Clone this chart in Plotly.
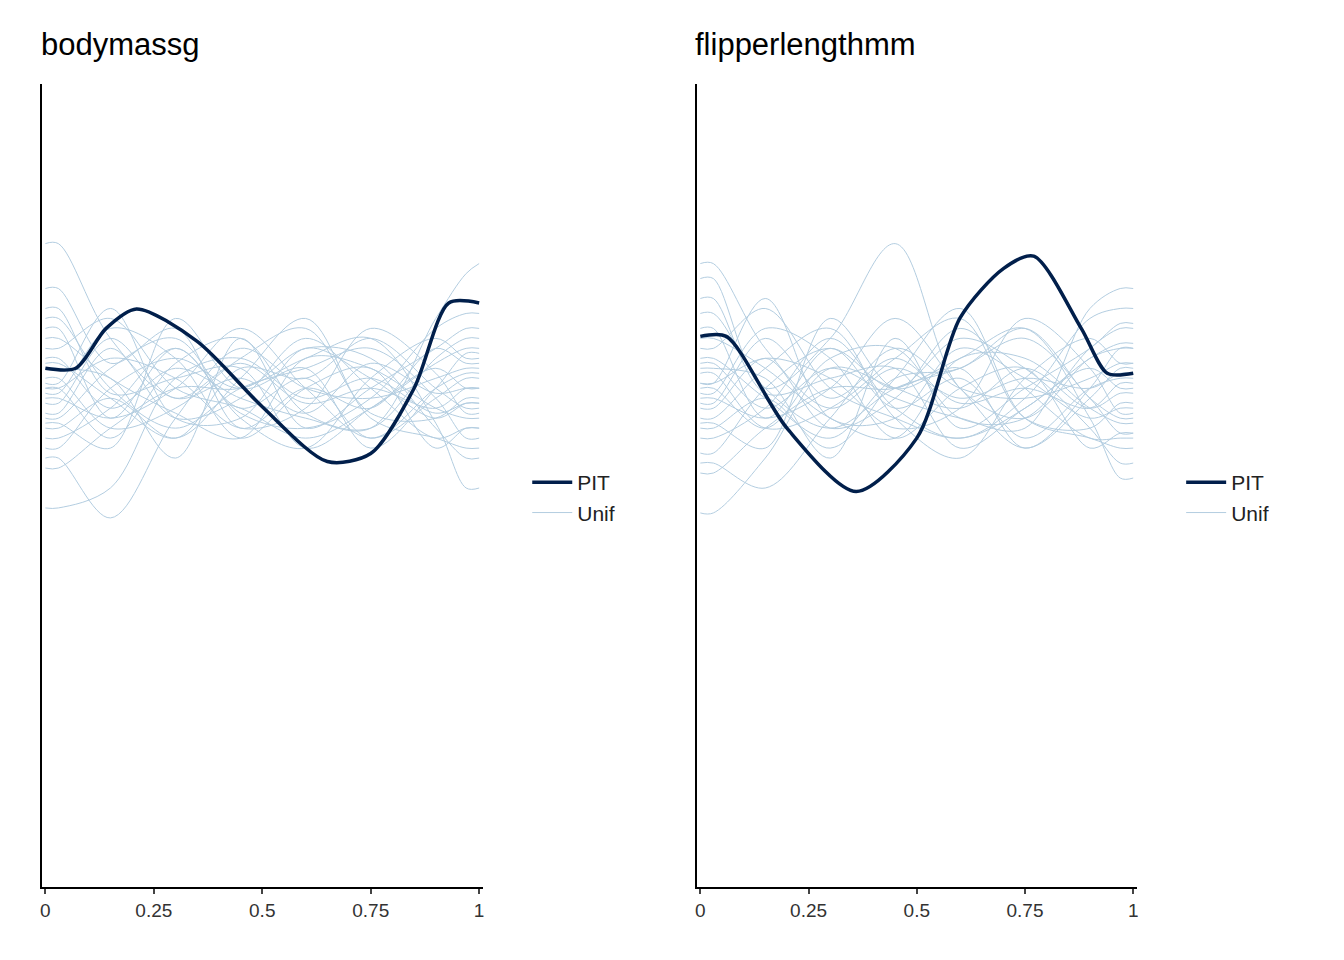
import plotly.graph_objects as go

# knots (x) used for the drawn density curves
knots = [0, 0.03, 0.15, 0.3, 0.45, 0.6, 0.75, 0.9, 0.97, 1]

# PIT densities
pit_body_x = [0, 0.07, 0.14, 0.21, 0.35, 0.5, 0.65, 0.75, 0.85, 0.93, 1]
pit_body_y = [1.04, 1.04, 1.12, 1.159, 1.094, 0.963, 0.853, 0.869, 1.0, 1.171, 1.171]
pit_flip_x = [0, 0.06, 0.2, 0.36, 0.5, 0.6, 0.7, 0.77, 0.88, 0.94, 1]
pit_flip_y = [1.104, 1.104, 0.92, 0.793, 0.9, 1.141, 1.24, 1.265, 1.12, 1.03, 1.03]

# uniform reference densities (approximate reading of the overlay)
unif_body = [
    [1.29, 1.29, 1.10, 0.98, 1.02, 0.95, 1.05, 0.99, 1.00, 1.00],
    [1.20, 1.20, 1.05, 1.12, 0.92, 1.00, 0.96, 1.08, 1.05, 1.05],
    [0.76, 0.76, 0.80, 1.02, 1.06, 0.98, 1.02, 0.95, 0.97, 0.97],
    [1.00, 1.00, 0.90, 1.05, 1.10, 0.95, 0.92, 1.06, 1.10, 1.10],
    [0.95, 0.95, 1.08, 0.94, 0.98, 1.10, 1.00, 0.90, 0.92, 0.92],
    [1.05, 1.05, 0.98, 0.90, 1.04, 1.02, 1.10, 1.00, 0.96, 0.96],
    [0.90, 0.90, 0.96, 1.08, 0.95, 0.92, 0.98, 1.12, 1.15, 1.15],
    [1.10, 1.10, 1.02, 0.95, 0.90, 1.06, 1.04, 0.96, 0.94, 0.94],
    [0.98, 0.98, 0.94, 1.00, 1.12, 1.00, 0.90, 0.98, 1.02, 1.02],
    [1.08, 1.08, 1.14, 1.00, 0.96, 0.90, 0.96, 1.05, 1.08, 1.08],
    [0.88, 0.88, 1.00, 1.06, 1.00, 1.08, 1.06, 0.92, 0.86, 0.86],
    [1.02, 1.02, 0.92, 0.96, 1.06, 1.12, 0.95, 0.94, 0.98, 0.98],
    [0.94, 0.94, 1.04, 1.10, 0.94, 0.88, 1.02, 1.10, 1.06, 1.06],
    [1.14, 1.14, 1.00, 0.92, 1.00, 1.04, 1.08, 0.98, 0.90, 0.90],
    [0.86, 0.86, 0.74, 0.94, 1.08, 1.00, 0.98, 1.02, 1.04, 1.04],
    [1.00, 1.00, 1.06, 1.02, 0.92, 0.96, 1.12, 1.03, 0.95, 0.95],
    [0.92, 0.92, 0.98, 0.90, 1.02, 1.14, 0.94, 0.90, 0.88, 0.88],
    [1.06, 1.06, 0.96, 1.04, 0.98, 0.94, 0.92, 1.14, 1.23, 1.25],
    [0.97, 0.97, 1.10, 0.98, 1.05, 0.97, 1.00, 0.96, 1.00, 1.00],
    [1.12, 1.12, 0.94, 1.08, 0.96, 1.02, 0.90, 1.00, 1.03, 1.03],
    [0.84, 0.84, 0.92, 1.00, 1.00, 1.06, 1.10, 0.93, 0.80, 0.80],
    [1.04, 1.04, 1.02, 0.86, 1.10, 0.92, 1.00, 1.08, 1.12, 1.12],
    [0.99, 0.99, 1.12, 1.06, 0.90, 1.00, 1.04, 0.88, 0.92, 0.92],
    [1.16, 1.16, 0.99, 1.02, 1.04, 0.88, 0.96, 1.04, 1.00, 1.00],
    [0.93, 0.93, 0.88, 1.14, 1.00, 1.04, 0.88, 1.00, 1.07, 1.07],
    [1.01, 1.01, 1.16, 0.94, 0.94, 1.08, 1.02, 0.94, 0.97, 0.97],
]
unif_flip = [
    [1.25, 1.25, 1.08, 0.96, 1.04, 0.98, 1.02, 1.00, 1.03, 1.03],
    [1.22, 1.22, 1.00, 1.10, 1.29, 1.00, 0.94, 1.06, 1.08, 1.08],
    [0.75, 0.75, 0.86, 1.04, 1.00, 0.96, 1.04, 0.96, 0.99, 0.99],
    [1.00, 1.00, 0.92, 1.06, 1.08, 0.94, 0.94, 1.08, 1.12, 1.12],
    [0.96, 0.96, 1.06, 0.92, 0.98, 1.12, 1.00, 0.90, 0.90, 0.90],
    [1.06, 1.06, 0.98, 0.90, 1.02, 1.04, 1.12, 0.98, 0.94, 0.94],
    [0.90, 0.90, 0.96, 1.10, 0.96, 0.90, 0.98, 1.14, 1.16, 1.16],
    [1.10, 1.10, 1.04, 0.94, 0.90, 1.06, 1.06, 0.96, 0.93, 0.93],
    [0.98, 0.98, 0.94, 1.00, 1.14, 1.00, 0.88, 0.98, 1.04, 1.04],
    [1.08, 1.08, 1.16, 1.00, 0.94, 0.90, 0.96, 1.06, 1.09, 1.09],
    [0.87, 0.87, 1.00, 1.08, 1.00, 1.10, 1.04, 0.92, 0.85, 0.85],
    [1.03, 1.03, 0.92, 0.96, 1.06, 1.14, 0.94, 0.92, 0.97, 0.97],
    [0.94, 0.94, 1.04, 1.12, 0.94, 0.86, 1.02, 1.10, 1.05, 1.05],
    [1.15, 1.15, 1.00, 0.92, 1.00, 1.04, 1.10, 0.98, 0.91, 0.91],
    [0.85, 0.85, 0.80, 0.94, 1.08, 1.00, 0.98, 1.02, 1.05, 1.05],
    [1.01, 1.01, 1.06, 1.02, 0.92, 0.96, 1.14, 1.04, 0.95, 0.95],
    [0.92, 0.92, 0.98, 0.88, 1.02, 1.16, 0.94, 0.90, 0.88, 0.88],
    [1.05, 1.05, 0.96, 1.04, 0.98, 0.94, 0.92, 1.16, 1.20, 1.20],
    [0.97, 0.97, 1.10, 0.98, 1.06, 0.97, 1.00, 0.96, 1.01, 1.01],
    [1.12, 1.12, 0.94, 1.08, 0.96, 1.02, 0.90, 1.00, 1.02, 1.02],
    [0.83, 0.83, 0.92, 1.00, 1.00, 1.06, 1.12, 0.94, 0.82, 0.82],
    [1.04, 1.04, 1.02, 0.86, 1.10, 0.92, 1.00, 1.08, 1.13, 1.13],
    [0.99, 0.99, 1.12, 1.06, 0.90, 1.00, 1.04, 0.88, 0.91, 0.91],
    [1.18, 1.18, 0.99, 1.02, 1.04, 0.88, 0.96, 1.04, 1.00, 1.00],
    [0.93, 0.93, 0.88, 1.14, 1.00, 1.04, 0.88, 1.00, 1.08, 1.08],
    [1.01, 1.01, 1.18, 0.94, 0.94, 1.08, 1.02, 0.94, 0.96, 0.96],
]

tick_vals = [0, 0.25, 0.5, 0.75, 1]
tick_text = ["0", "0.25", "0.5", "0.75", "1"]

UNIF = "#b3cde0"
PIT = "#011f4b"

fig = go.Figure()
for xa, ya, curves, px_, py_, leg in [("x", "y", unif_body, pit_body_x, pit_body_y, "legend"),
                                      ("x2", "y2", unif_flip, pit_flip_x, pit_flip_y, "legend2")]:
    for i, ys in enumerate(curves):
        fig.add_trace(go.Scatter(x=knots, y=ys, mode="lines", xaxis=xa, yaxis=ya,
                                 line=dict(color=UNIF, width=1, shape="spline", smoothing=1),
                                 name="Unif", legend=leg, showlegend=(i == 0), legendrank=2,
                                 hoverinfo="skip"))
    fig.add_trace(go.Scatter(x=px_, y=py_, mode="lines", xaxis=xa, yaxis=ya,
                             line=dict(color=PIT, width=3.5, shape="spline", smoothing=0.8),
                             name="PIT", legend=leg, legendrank=1))

axis_x = dict(range=[-0.008, 1.008], tickvals=tick_vals, ticktext=tick_text, showgrid=False,
              zeroline=False, showline=True, linecolor="black", linewidth=2, ticks="outside",
              ticklen=5, tickwidth=1.5, tickfont=dict(size=19, color="#333333"))
axis_y = dict(range=[0, 1.61], showticklabels=False, showgrid=False, zeroline=False,
              showline=True, linecolor="black", linewidth=2, ticks="")

leg_style = dict(bgcolor="rgba(0,0,0,0)", font=dict(size=21, color="#222"), yanchor="middle",
                 tracegroupgap=8, itemwidth=40)
fig.update_layout(
    width=1344, height=960, margin=dict(l=0, r=0, t=0, b=0),
    plot_bgcolor="white", paper_bgcolor="white",
    font=dict(family="Liberation Sans, Arial, sans-serif"),
    xaxis=dict(domain=[0.0238, 0.3527], anchor="y", **axis_x),
    yaxis=dict(domain=[0.0844, 0.9208], anchor="x", **axis_y),
    xaxis2=dict(domain=[0.5126, 0.8408], anchor="y2", **axis_x),
    yaxis2=dict(domain=[0.0844, 0.9208], anchor="x2", **axis_y),
    legend=dict(x=0.386, y=0.49, **leg_style),
    legend2=dict(x=0.874, y=0.49, **leg_style),
    annotations=[
        dict(text="bodymassg", x=0.0215, y=0.962, xref="paper", yref="paper", showarrow=False,
             xanchor="left", yanchor="middle", font=dict(size=31, color="black")),
        dict(text="flipperlengthmm", x=0.510, y=0.962, xref="paper", yref="paper", showarrow=False,
             xanchor="left", yanchor="middle", font=dict(size=31, color="black")),
    ],
)

fig.write_html("out.html")
